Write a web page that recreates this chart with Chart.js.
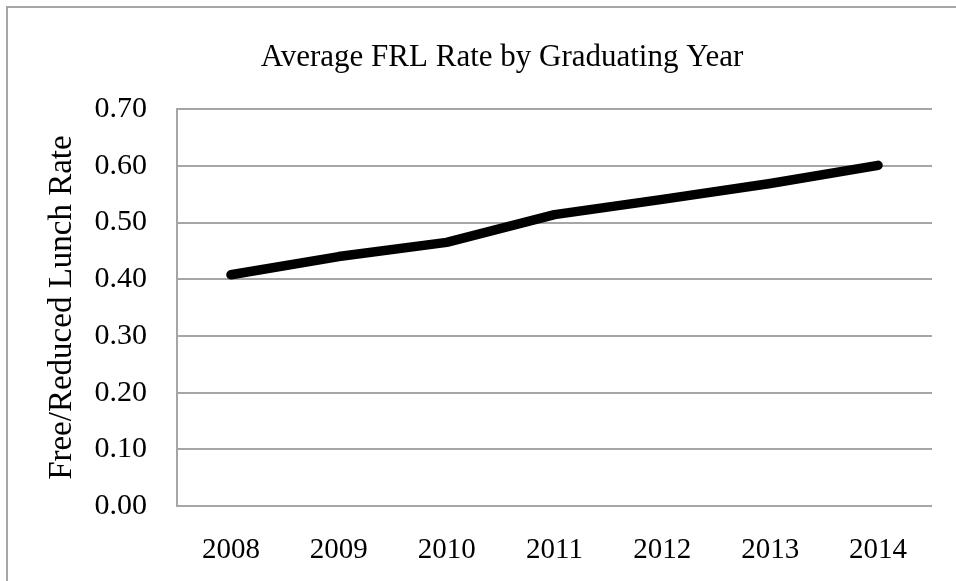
<!DOCTYPE html>
<html>
<head>
<meta charset="utf-8">
<script src="https://cdn.jsdelivr.net/npm/chart.js@4"></script>
<style>
  html, body { margin: 0; padding: 0; background: #fff; }
  body { width: 956px; height: 581px; position: relative; overflow: hidden; }
  /* outer chart frame, runs off the right and bottom edges */
  #frame { position: absolute; left: 6px; top: 6px; width: 1000px; height: 640px;
           border: 2px solid #a6a6a6; box-sizing: border-box; }
  #wrap { position: absolute; left: 0; top: 0; width: 956px; height: 581px; }
</style>
</head>
<body>
<div id="frame"></div>
<div id="wrap"><canvas id="myChart"></canvas></div>
<script>
const years = ['2008', '2009', '2010', '2011', '2012', '2013', '2014']
const frlRate = [0.408, 0.44, 0.465, 0.514, 0.541, 0.569, 0.601]
const yTicks = [0, 0.1, 0.2, 0.3, 0.4, 0.5, 0.6, 0.7]

const serif = "'Liberation Serif', 'Times New Roman', serif"
const gridGray = '#a6a6a6'

var ctx = document.getElementById('myChart').getContext('2d');

// centre the title over the frame instead of the canvas
const titleShift = {
  id: 'titleShift',
  afterLayout(chart) {
    const t = chart.titleBlock;
    if (t) { t.left = 72; t.right = chart.chartArea.right; }
  }
};

var myChart = new Chart(ctx, {
  type: 'line',
  data: {
    labels: years,
    datasets: [{
      data: frlRate,
      fill: false,
      borderColor: '#000',
      borderWidth: 9.5,
      borderCapStyle: 'round',
      borderJoinStyle: 'round',
      radius: 0,
      tension: 0,
    }],
  },
  plugins: [titleShift],
  options: {
    responsive: true,
    maintainAspectRatio: false,
    animation: false,
    layout: {
      padding: { left: 0, right: 24, top: 0, bottom: 0 }
    },
    plugins: {
      legend: { display: false },
      tooltip: { enabled: false },
      title: {
        display: true,
        text: 'Average FRL Rate by Graduating Year',
        color: '#000',
        font: { family: serif, size: 31, weight: 'normal' },
        padding: { top: 39, bottom: 33 },
      }
    },
    scales: {
      x: {
        offset: true,
        grid: { display: false, offset: true },
        border: { display: false },
        ticks: {
          color: '#000',
          font: { family: serif, size: 29 },
          padding: 19,
          maxRotation: 0,
        },
        afterFit: function(scale) { scale.height = 75 },
      },
      y: {
        min: 0,
        max: 0.7,
        afterBuildTicks: function(scale) {
          scale.ticks = yTicks.map(v => ({ value: v }))
        },
        grid: { color: gridGray, lineWidth: 2, drawTicks: false },
        border: { display: true, color: gridGray, width: 2 },
        ticks: {
          color: '#000',
          font: { family: serif, size: 30 },
          padding: 30,
          callback: v => v.toFixed(2),
        },
        title: {
          display: true,
          text: 'Free/Reduced Lunch Rate',
          color: '#000',
          font: { family: serif, size: 33 },
          padding: { top: 43, bottom: 0 },
        },
        afterFit: function(scale) { scale.width = 177 },
      }
    }
  }
});
</script>
</body>
</html>
